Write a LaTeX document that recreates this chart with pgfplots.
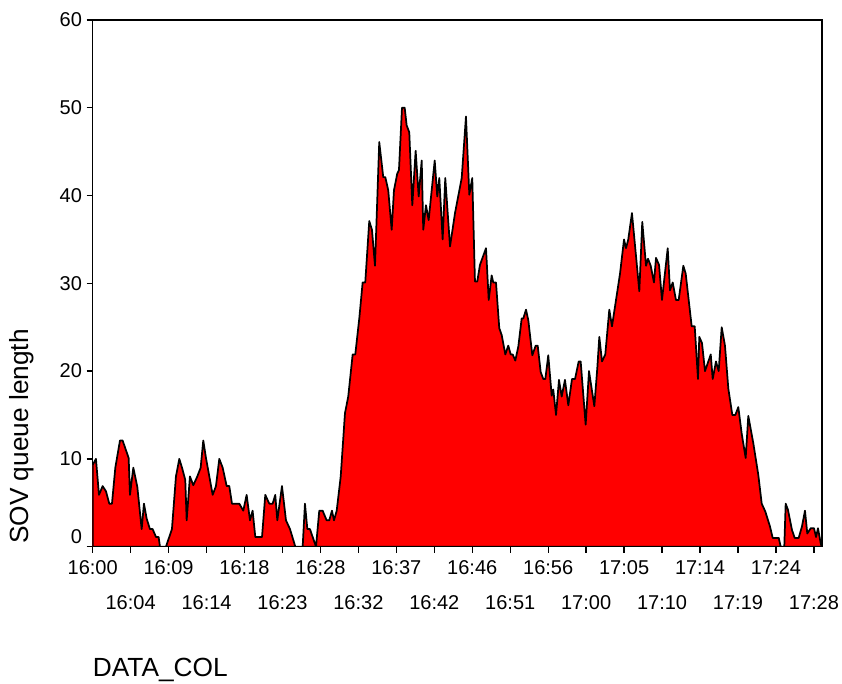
\documentclass[border=0pt]{standalone}
\usepackage{fontspec}
\setmainfont{Liberation Sans}
\usepackage{pgfplots}
\usepackage{pgfplotstable}
\pgfplotsset{compat=1.18}

\pgfplotstableread{
t v
0.00 9.3
0.40 10.0
0.77 5.9
1.22 6.9
1.63 6.3
2.03 4.9
2.36 4.9
2.77 9.0
3.34 12.1
3.66 12.1
4.40 10.1
4.56 5.9
4.97 9.0
5.46 6.8
5.99 2.0
6.27 4.9
6.60 3.2
7.00 2.0
7.33 2.0
7.74 1.1
8.06 1.1
8.23 0
8.96 0
9.69 2.0
10.18 8.0
10.59 10.0
10.92 9.0
11.32 7.6
11.49 3.0
11.89 8.0
12.30 7.0
12.79 8.0
13.20 9.0
13.52 12.1
13.85 10.1
14.26 8.0
14.67 5.9
15.07 6.9
15.48 10.0
15.89 9.0
16.38 6.9
16.70 6.9
17.03 4.9
17.92 4.9
18.41 4.1
18.82 5.9
19.23 3.0
19.55 4.1
19.88 1.1
20.70 1.1
21.10 5.9
21.59 4.9
22.00 4.9
22.32 5.9
22.57 3.0
23.14 6.9
23.63 3.0
24.12 2.0
24.77 0
25.67 0
25.95 4.9
26.24 2.0
26.56 2.0
27.30 0
27.70 4.1
28.11 4.1
28.60 3.0
28.92 3.0
29.25 4.1
29.50 3.0
29.83 4.1
30.32 8.0
30.84 15.2
31.24 17.1
31.78 21.9
32.10 21.9
32.59 26.0
33.00 30.1
33.32 30.1
33.81 37.1
34.14 36.1
34.51 32.0
35.03 46.1
35.52 42.1
35.77 42.1
36.13 40.6
36.55 36.1
36.83 40.6
37.23 42.5
37.44 42.9
37.81 50.0
38.14 50.0
38.38 48.0
38.70 47.2
39.07 38.9
39.48 45.1
39.85 39.9
40.22 44.0
40.41 36.1
40.74 38.9
41.07 37.2
41.81 44.0
42.12 39.9
42.37 42.0
42.78 35.0
43.10 42.0
43.68 34.2
44.29 38.0
45.11 42.0
45.63 49.0
46.04 40.1
46.40 42.0
46.73 30.2
47.01 30.2
47.34 32.1
48.08 34.0
48.41 28.1
48.77 30.9
48.97 30.1
49.30 30.1
49.70 24.9
50.00 24.1
50.44 21.9
50.80 22.9
51.10 21.9
51.34 21.9
51.66 21.2
52.03 22.8
52.44 26.0
52.64 26.0
52.97 27.0
53.25 25.8
53.74 21.8
54.15 22.9
54.40 22.9
54.76 19.9
55.08 19.1
55.33 19.1
55.69 21.8
56.11 17.2
56.30 17.9
56.64 15.0
57.00 19.0
57.33 17.1
57.73 19.0
58.14 16.1
58.59 19.1
58.96 19.1
59.41 21.1
59.65 21.1
60.26 13.9
60.67 20.0
61.32 16.0
61.68 20.3
61.93 23.9
62.26 21.1
62.66 21.9
63.15 27.0
63.48 25.1
63.97 28.1
64.46 31.1
64.95 35.0
65.19 34.0
65.47 35.0
65.92 38.0
66.82 29.1
67.18 37.0
67.64 32.0
67.88 32.8
68.21 32.0
68.61 30.1
68.86 32.9
69.23 32.1
69.59 28.1
70.29 34.0
70.57 29.2
70.90 30.1
71.30 28.1
71.63 28.1
72.20 32.0
72.49 31.1
73.22 25.1
73.59 25.1
73.99 19.1
74.15 23.9
74.48 23.2
74.85 20.0
75.55 21.9
75.79 19.1
76.19 21.1
76.52 20.0
76.89 25.0
77.29 22.9
77.70 18.0
78.19 15.0
78.55 15.0
78.92 15.9
79.33 12.9
79.82 10.1
80.14 14.9
80.75 11.8
81.36 8.2
81.78 4.9
82.22 4.0
82.79 2.3
83.12 1.0
83.86 1.0
84.10 0
84.54 0
84.71 4.9
84.99 4.2
85.48 1.9
85.81 1.0
86.30 1.0
86.70 2.3
87.07 4.1
87.35 1.5
87.77 2.1
88.17 2.1
88.42 1.1
88.66 2.1
88.99 0.4
89.11 0
}\sovdata

\begin{document}
\begin{tikzpicture}
\useasboundingbox (-69.5pt,-103pt) rectangle (562pt,410pt);
\begin{axis}[
  scale only axis,
  width=547pt, height=395pt,
  xmin=0, xmax=89.15, ymin=0, ymax=60,
  axis line style={line width=1pt},
  tick align=outside,
  xtick pos=bottom, ytick pos=left,
  major tick length=4.5pt,
  tick style={black, line width=1pt},
  xtick={0,9.28,18.56,27.84,37.12,46.40,55.68,64.96,74.24,83.52},
  xticklabels={16:00,16:09,16:18,16:28,16:37,16:46,16:56,17:05,17:14,17:24},
  extra x ticks={4.64,13.92,23.2,32.48,41.76,51.04,60.32,69.6,78.88,88.16},
  extra x tick labels={16:04,16:14,16:23,16:32,16:42,16:51,17:00,17:10,17:19,17:28},
  extra x tick style={tick label style={yshift=-26.5pt}},
  xticklabel style={yshift=-2.4pt},
  ytick={0,10,20,30,40,50,60},
  yticklabels={{\raisebox{7.3pt}[\height][\depth]{0}},10,20,30,40,50,60},
  tick label style={font=\fontsize{15}{17}\selectfont},
  xlabel={DATA\_COL},
  ylabel={SOV queue length},
  label style={font=\fontsize{19.7}{23}\selectfont},
  xlabel style={at={(axis description cs:0,-0.2474)}, anchor=base west, inner sep=0pt},
  ylabel style={at={(axis description cs:-0.0969,0.2092)}, anchor=center},
]
\addplot[draw=black, fill=red, line width=1.3pt, line join=round] table[x=t,y=v] {\sovdata} \closedcycle;
\end{axis}
\end{tikzpicture}
\end{document}
